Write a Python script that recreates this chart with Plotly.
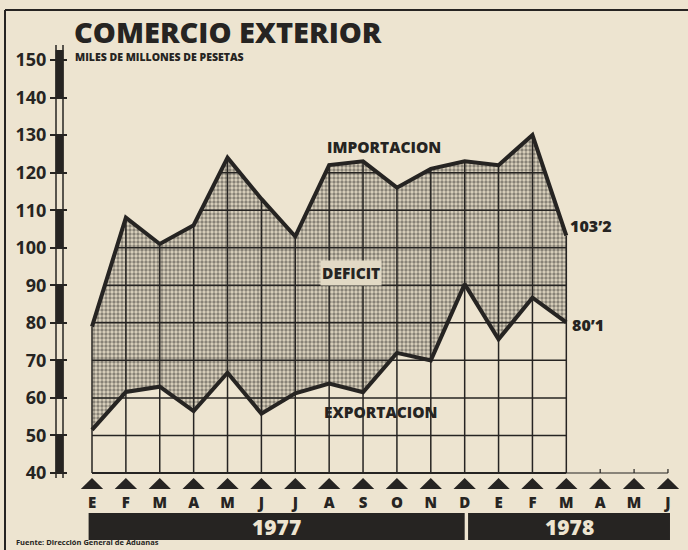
import numpy as np
import plotly.graph_objects as go

# ---------------- data ----------------
months = ["E", "F", "M", "A", "M", "J", "J", "A", "S", "O", "N", "D",
          "E", "F", "M", "A", "M", "J"]
years = ["1977", "1978"]
year_first_month = [0, 12]
year_last_month = [11, 17]
importacion = [79, 108, 101, 106, 124, 113, 103, 122, 123, 116, 121, 123, 122, 130, 103.2]
exportacion = [51.5, 61.6, 63, 56.5, 66.7, 55.8, 61.2, 63.8, 61.5, 72, 70, 90.3, 75.6, 86.7, 80.1]
y_ticks = [40, 50, 60, 70, 80, 90, 100, 110, 120, 130, 140, 150]
label_import_last = "103’2"
label_export_last = "80’1"

# ---------------- style ----------------
W, H = 688, 550
PAPER = "#ede4d0"
INK = "#262422"
FONT = "Open Sans"

# pixel geometry of the axes (full-figure plot area)
X0_PX, DX_PX = 92.0, 33.88      # month 0 position, px per month
Y40_PX, DY_PX = 473.0, 3.7545   # value 40 position, px per unit


def px_x(p):
    return (p - X0_PX) / DX_PX


def px_y(p):
    return 40 + (Y40_PX - p) / DY_PX


xr = [px_x(0), px_x(W)]
yr = [px_y(H), px_y(0)]

n = len(importacion)
xi = list(range(n))
imp = np.array(importacion, float)

fig = go.Figure()

# deficit area (between export and import)
fig.add_trace(go.Scatter(x=xi, y=exportacion, mode="lines",
                         line=dict(width=0, color=INK), hoverinfo="skip"))
fig.add_trace(go.Scatter(x=xi, y=importacion, mode="lines", fill="tonexty",
                         line=dict(width=0, color=INK),
                         fillcolor="#c9c0ad",
                         fillpattern=dict(shape=".", fgcolor="#34312d",
                                          bgcolor="#dcd3bf", size=4, solidity=0.55),
                         hoverinfo="skip"))

# grid below the import line
gx, gy = [], []
for L in range(50, 140, 10):
    segs = []
    for i in range(n - 1):
        a, b = imp[i], imp[i + 1]
        if a < L and b < L:
            continue
        if a >= L and b >= L:
            s, e = i, i + 1
        elif a >= L:
            s, e = i, i + (a - L) / (a - b)
        else:
            s, e = i + (L - a) / (b - a), i + 1
        if segs and abs(segs[-1][1] - s) < 1e-9:
            segs[-1][1] = e
        else:
            segs.append([s, e])
    for s, e in segs:
        gx += [s, e, None]
        gy += [L, L, None]
for i, v in enumerate(imp):
    gx += [i, i, None]
    gy += [y_ticks[0], v, None]
fig.add_trace(go.Scatter(x=gx, y=gy, mode="lines",
                         line=dict(width=1.5, color=INK), hoverinfo="skip"))

# baseline and its thin continuation with small ticks
fig.add_trace(go.Scatter(x=[0, n - 1], y=[y_ticks[0]] * 2, mode="lines",
                         line=dict(width=2.2, color=INK), hoverinfo="skip"))
bx, by = [n - 1, len(months) - 1, None], [y_ticks[0], y_ticks[0], None]
for i in range(n, len(months)):
    bx += [i, i, None]
    by += [y_ticks[0], y_ticks[0] + 4 / DY_PX, None]
fig.add_trace(go.Scatter(x=bx, y=by, mode="lines",
                         line=dict(width=1.2, color=INK), hoverinfo="skip"))

# main lines
fig.add_trace(go.Scatter(x=xi, y=importacion, mode="lines",
                         line=dict(width=4, color=INK), hoverinfo="skip"))
fig.add_trace(go.Scatter(x=xi, y=exportacion, mode="lines",
                         line=dict(width=4, color=INK), hoverinfo="skip"))

# month triangles
tx, ty = [], []
tb, tt = px_y(489), px_y(478)
for i in range(len(months)):
    tx += [i - 0.33, i + 0.33, i, i - 0.33, None]
    ty += [tb, tb, tt, tb, None]
fig.add_trace(go.Scatter(x=tx, y=ty, mode="lines", fill="toself",
                         fillcolor=INK, line=dict(width=0, color=INK),
                         hoverinfo="skip"))

shapes = []
# frame
shapes.append(dict(type="line", xref="paper", yref="paper", x0=5 / W, x1=1,
                   y0=1 - 10 / H, y1=1 - 10 / H, line=dict(color=INK, width=2)))
shapes.append(dict(type="line", xref="paper", yref="paper", x0=5 / W, x1=5 / W,
                   y0=0, y1=1 - 10 / H, line=dict(color=INK, width=2)))
# double axis line with alternating black segments
for xp in (56, 63):
    shapes.append(dict(type="line", xref="paper", yref="y", x0=xp / W, x1=xp / W,
                       y0=px_y(478), y1=px_y(45), line=dict(color=INK, width=1.5)))
for k in range(0, len(y_ticks) - 1, 2):
    shapes.append(dict(type="rect", xref="paper", yref="y", x0=55.5 / W, x1=63.5 / W,
                       y0=y_ticks[k], y1=y_ticks[k + 1], fillcolor=INK, line=dict(width=0)))
shapes.append(dict(type="rect", xref="paper", yref="y", x0=55.5 / W, x1=63.5 / W,
                   y0=y_ticks[-1], y1=px_y(50), fillcolor=INK, line=dict(width=0)))
# year bars
annotations = []
for k, yname in enumerate(years):
    x0 = year_first_month[k] - 0.1 if k == 0 else year_last_month[k - 1] + 0.1
    x1 = year_last_month[k] + (0.0 if k == 0 else 0.06)
    shapes.append(dict(type="rect", xref="x", yref="y", x0=x0, x1=x1,
                       y0=px_y(540), y1=px_y(513), fillcolor=INK, line=dict(width=0)))
    annotations.append(dict(x=(x0 + x1) / 2, y=px_y(527), xref="x", yref="y",
                            text=yname, showarrow=False,
                            font=dict(family=FONT, size=21, color=PAPER, weight=800)))

# texts
annotations += [
    dict(x=72 / W, y=1 - 31 / H, xref="paper", yref="paper", xanchor="left", yanchor="middle",
         text="COMERCIO EXTERIOR", showarrow=False,
         font=dict(family=FONT, size=29, color=INK, weight=800)),
    dict(x=73 / W, y=1 - 57 / H, xref="paper", yref="paper", xanchor="left", yanchor="middle",
         text="MILES DE MILLONES DE PESETAS", showarrow=False,
         font=dict(family=FONT, size=10.5, color=INK, weight=800)),
    dict(x=px_x(384), y=px_y(147), xref="x", yref="y", text="IMPORTACION", showarrow=False,
         font=dict(family=FONT, size=15.5, color=INK, weight=800)),
    dict(x=px_x(351), y=px_y(273), xref="x", yref="y", text="DEFICIT", showarrow=False,
         bgcolor="#e2d9c5", borderpad=1,
         font=dict(family=FONT, size=15.5, color=INK, weight=800)),
    dict(x=px_x(381), y=px_y(412), xref="x", yref="y", text="EXPORTACION", showarrow=False,
         font=dict(family=FONT, size=15.5, color=INK, weight=800)),
    dict(x=n - 1, y=importacion[-1], xref="x", yref="y", xanchor="left", yanchor="middle",
         xshift=2, yshift=10, text=label_import_last, showarrow=False,
         font=dict(family=FONT, size=16, color=INK, weight=800)),
    dict(x=n - 1, y=exportacion[-1], xref="x", yref="y", xanchor="left", yanchor="middle",
         xshift=4, yshift=-3, text=label_export_last, showarrow=False,
         font=dict(family=FONT, size=16, color=INK, weight=800)),
    dict(x=14 / W, y=1 - 542 / H, xref="paper", yref="paper", xanchor="left", yanchor="middle",
         text="Fuente: Dirección General de Aduanas", showarrow=False,
         font=dict(family=FONT, size=7.5, color=INK, weight=700)),
]

fig.update_layout(
    width=W, height=H,
    margin=dict(l=0, r=0, t=0, b=0),
    paper_bgcolor=PAPER, plot_bgcolor=PAPER,
    showlegend=False,
    shapes=shapes, annotations=annotations,
    xaxis=dict(range=xr, domain=[0, 1], anchor="free", position=1 - 492 / H,
               tickmode="array", tickvals=list(range(len(months))), ticktext=months,
               ticks="", showgrid=False, zeroline=False, showline=False,
               tickfont=dict(family=FONT, size=15, color=INK, weight=800),
               automargin=False, fixedrange=True),
    yaxis=dict(range=yr, domain=[0, 1], anchor="free", position=67 / W,
               tickmode="array", tickvals=y_ticks, ticktext=[str(v) for v in y_ticks],
               ticks="outside", ticklen=17, tickwidth=2, tickcolor=INK,
               showgrid=False, zeroline=False, showline=False,
               tickfont=dict(family=FONT, size=18, color=INK, weight=700),
               automargin=False, fixedrange=True),
)

fig.write_html("out.html", config={"displayModeBar": False},
               post_script="document.body.style.margin='0';document.body.style.background='%s';" % PAPER)
